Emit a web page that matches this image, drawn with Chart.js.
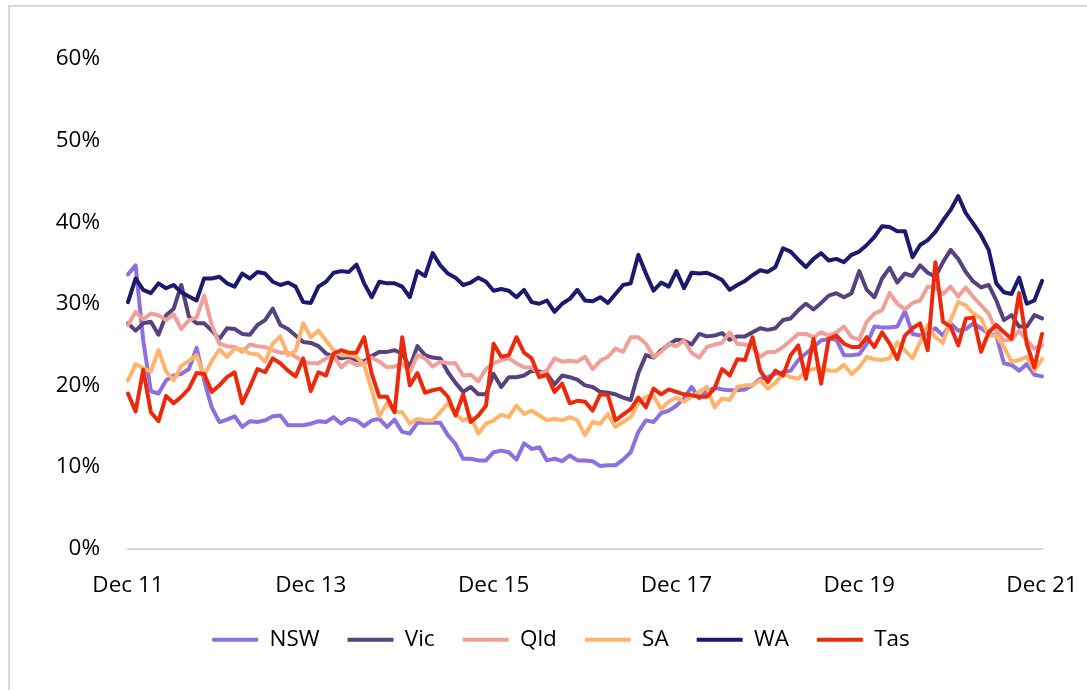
<!DOCTYPE html>
<html>
<head>
<meta charset="utf-8">
<script src="https://cdn.jsdelivr.net/npm/chart.js@4.4.1/dist/chart.umd.min.js"></script>
<style>
  html, body { margin: 0; padding: 0; background: #fff; }
  #wrap { position: relative; width: 1087px; height: 690px; overflow: hidden; }
  #frame { position: absolute; left: 8px; top: 5px; width: 1200px; height: 800px; border: 2px solid #d9d9d9; }
  #chart { position: absolute; left: 0; top: 0; }
</style>
</head>
<body>
<div id="wrap">
  <div id="frame"></div>
  <canvas id="chart" width="1087" height="690"></canvas>
</div>
<script>
// monthly shares, Dec 2011 to Dec 2021 (per cent)
const nsw = [
  33.6, 34.7, 25.5, 19.3, 19.0, 20.6, 21.2, 21.4, 22.0, 24.6,
  20.6, 17.3, 15.5, 15.8, 16.2, 14.9, 15.6, 15.5, 15.7, 16.2,
  16.3, 15.1, 15.1, 15.1, 15.3, 15.6, 15.5, 16.1, 15.3, 15.9,
  15.7, 15.0, 15.7, 15.9, 14.9, 15.8, 14.3, 14.1, 15.4, 15.4,
  15.4, 15.4, 13.9, 12.8, 11.0, 11.0, 10.8, 10.8, 11.8, 12.0,
  11.8, 10.9, 12.9, 12.2, 12.4, 10.8, 11.0, 10.7, 11.4, 10.8,
  10.8, 10.7, 10.1, 10.2, 10.2, 10.9, 11.8, 14.3, 15.7, 15.5,
  16.6, 16.9, 17.5, 18.4, 19.8, 18.4, 19.3, 19.7, 19.5, 19.4,
  19.4, 19.5, 20.0, 20.8, 21.0, 21.4, 21.6, 21.8, 23.1, 23.9,
  24.7, 25.5, 25.7, 25.6, 23.7, 23.7, 23.8, 25.1, 27.2, 27.1,
  27.1, 27.2, 29.1, 26.3, 26.1, 26.4, 27.0, 26.1, 27.6, 26.7,
  26.9, 27.6, 27.0, 26.3, 26.1, 22.7, 22.5, 21.8, 22.6, 21.3,
  21.1
];
const vic = [
  27.6, 26.7, 27.6, 27.8, 26.2, 28.6, 29.4, 32.3, 28.4, 27.6,
  27.6, 26.7, 25.7, 27.0, 26.9, 26.3, 26.2, 27.4, 28.0, 29.4,
  27.4, 26.9, 26.1, 25.3, 25.2, 24.8, 23.9, 23.5, 23.3, 23.5,
  23.1, 22.9, 23.6, 24.1, 24.1, 24.3, 23.9, 22.2, 24.8, 23.7,
  23.4, 23.3, 21.6, 20.3, 19.2, 19.8, 18.9, 18.9, 21.4, 19.8,
  21.0, 21.0, 21.2, 21.8, 21.7, 21.4, 20.1, 21.2, 21.0, 20.7,
  20.0, 19.8, 19.2, 19.1, 18.9, 18.5, 18.2, 21.5, 23.7, 23.4,
  24.3, 25.0, 25.6, 25.5, 25.0, 26.3, 26.0, 26.1, 26.4, 25.6,
  26.0, 26.0, 26.5, 27.0, 26.8, 27.0, 28.0, 28.2, 29.2, 30.0,
  29.3, 30.1, 31.0, 31.3, 30.8, 31.3, 34.0, 31.7, 30.8, 33.1,
  34.4, 32.6, 33.7, 33.4, 34.7, 33.8, 33.3, 35.1, 36.6, 35.5,
  33.9, 32.7, 32.0, 32.3, 30.4, 28.0, 28.6, 27.2, 27.2, 28.6,
  28.2
];
const qld = [
  27.4, 29.0, 28.1, 28.8, 28.6, 28.0, 28.7, 26.9, 28.0, 28.3,
  31.0, 27.4, 25.1, 24.8, 24.7, 24.1, 25.0, 24.8, 24.7, 24.3,
  24.0, 24.0, 23.5, 22.9, 22.7, 22.7, 23.3, 23.6, 22.2, 23.0,
  22.5, 22.6, 23.4, 22.9, 22.2, 22.3, 22.7, 21.6, 23.7, 23.3,
  22.3, 22.9, 22.7, 22.7, 21.2, 21.3, 20.5, 22.0, 22.7, 23.1,
  23.3, 22.7, 22.2, 22.2, 21.4, 21.8, 23.3, 22.9, 23.0, 22.9,
  23.5, 22.0, 23.0, 23.5, 24.5, 24.1, 25.9, 25.9, 25.1, 23.5,
  24.1, 25.1, 24.8, 25.5, 24.0, 23.4, 24.7, 25.0, 25.2, 26.5,
  25.1, 25.0, 24.7, 23.5, 24.1, 24.1, 24.7, 25.5, 26.3, 26.3,
  25.9, 26.5, 26.1, 26.5, 27.2, 25.9, 25.6, 27.8, 28.8, 29.2,
  31.3, 30.0, 29.3, 30.1, 30.4, 32.1, 32.0, 31.2, 32.1, 30.9,
  32.0, 30.8, 29.8, 28.8, 26.7, 25.5, 25.6, 26.7, 25.5, 24.5,
  24.9
];
const sa = [
  20.6, 22.6, 22.1, 21.7, 24.3, 21.7, 20.6, 22.4, 23.0, 23.7,
  21.2, 23.0, 24.4, 23.5, 24.5, 24.4, 23.9, 23.8, 22.9, 25.1,
  26.0, 23.7, 24.2, 27.6, 25.9, 26.7, 25.5, 24.3, 23.7, 23.7,
  23.5, 22.5, 19.4, 16.2, 17.8, 16.8, 16.7, 15.3, 15.9, 15.7,
  15.7, 16.7, 17.8, 16.5, 15.7, 16.1, 14.1, 15.3, 15.7, 16.4,
  16.1, 17.5, 16.5, 16.9, 16.3, 15.7, 15.9, 15.7, 16.1, 15.7,
  13.9, 15.5, 15.3, 16.5, 14.9, 15.5, 16.1, 17.8, 18.6, 18.7,
  17.1, 18.0, 18.5, 18.0, 18.6, 19.2, 19.8, 17.3, 18.4, 18.2,
  19.8, 20.0, 20.0, 20.6, 19.6, 20.3, 21.4, 21.0, 20.8, 21.8,
  22.0, 22.2, 21.8, 21.8, 22.5, 21.4, 22.2, 23.5, 23.2, 23.1,
  23.3, 25.3, 24.3, 23.3, 25.3, 27.4, 25.9, 25.2, 28.0, 30.2,
  29.8, 28.8, 28.2, 26.1, 26.1, 24.7, 22.9, 23.1, 23.5, 21.8,
  23.2
];
const wa = [
  30.2, 33.1, 31.7, 31.3, 32.5, 31.9, 32.3, 31.4, 30.9, 30.4,
  33.1, 33.1, 33.3, 32.5, 32.1, 33.7, 33.1, 33.9, 33.7, 32.7,
  32.3, 32.6, 32.1, 30.2, 30.1, 32.1, 32.7, 33.8, 34.0, 33.9,
  34.8, 32.5, 30.8, 32.7, 32.5, 32.5, 32.1, 30.8, 34.0, 33.4,
  36.2, 34.7, 33.7, 33.2, 32.3, 32.6, 33.2, 32.7, 31.6, 31.8,
  31.6, 30.8, 31.7, 30.2, 30.0, 30.4, 29.0, 30.0, 30.6, 31.7,
  30.4, 30.3, 30.8, 30.1, 31.2, 32.3, 32.5, 36.0, 33.7, 31.6,
  32.6, 32.1, 34.0, 31.9, 33.8, 33.7, 33.8, 33.4, 32.9, 31.7,
  32.3, 32.8, 33.5, 34.1, 33.9, 34.5, 36.8, 36.4, 35.4, 34.5,
  35.5, 36.2, 35.3, 35.5, 35.1, 36.0, 36.4, 37.2, 38.2, 39.5,
  39.4, 38.9, 38.9, 35.7, 37.2, 37.8, 38.8, 40.2, 41.5, 43.2,
  41.1, 39.8, 38.4, 36.6, 32.5, 31.4, 31.2, 33.2, 30.0, 30.4,
  32.8
];
const tas = [
  19.0, 16.8, 21.9, 16.7, 15.6, 18.7, 17.8, 18.6, 19.6, 21.5,
  21.4, 19.2, 20.0, 21.0, 21.6, 17.8, 19.8, 22.0, 21.6, 23.3,
  22.7, 21.8, 21.1, 23.3, 19.3, 21.6, 21.2, 23.9, 24.3, 24.0,
  24.0, 25.9, 21.4, 18.6, 18.6, 16.7, 25.9, 20.0, 21.5, 19.1,
  19.4, 19.6, 18.6, 16.3, 18.9, 15.5, 16.3, 17.5, 25.1, 23.5,
  23.7, 25.9, 24.0, 23.3, 21.0, 21.3, 19.2, 20.2, 17.8, 18.1,
  18.0, 16.9, 18.9, 18.8, 15.7, 16.4, 17.1, 18.5, 17.3, 19.6,
  18.9, 19.5, 19.2, 18.9, 18.8, 18.6, 18.6, 19.6, 22.0, 21.2,
  23.2, 23.1, 25.9, 21.8, 20.4, 21.8, 21.2, 23.7, 24.9, 20.8,
  25.7, 20.2, 25.7, 26.1, 25.1, 24.7, 24.7, 25.9, 24.7, 26.5,
  25.1, 23.2, 26.1, 27.0, 27.6, 24.3, 35.1, 27.8, 27.2, 24.9,
  28.2, 28.3, 24.1, 26.5, 27.4, 26.5, 25.7, 31.3, 25.1, 22.2,
  26.3
];

const tickLabels = ["Dec 11", "Dec 13", "Dec 15", "Dec 17", "Dec 19", "Dec 21"];
const yTicks = [0, 10, 20, 30, 40, 50, 60];

// month categories "Dec 11" .. "Dec 21"
const monthNames = ["Jan", "Feb", "Mar", "Apr", "May", "Jun", "Jul", "Aug", "Sep", "Oct", "Nov", "Dec"];
const categories = [];
for (let k = 0; k < nsw.length; k++) {
  const m = 11 + k;
  categories.push(monthNames[m % 12] + " " + (11 + Math.floor(m / 12)));
}

const series = [
  { label: "NSW", data: nsw, color: "#8c70e0" },
  { label: "Vic", data: vic, color: "#55427f" },
  { label: "Qld", data: qld, color: "#f19f99" },
  { label: "SA",  data: sa,  color: "#ffb46c" },
  { label: "WA",  data: wa,  color: "#1b1a6e" },
  { label: "Tas", data: tas, color: "#ec2a0b" }
];

const font = { family: "'Open Sans', 'Noto Sans', sans-serif", size: 22.5 };

// nudge the legend row sideways so it sits under the plot as a block
const legendShift = {
  id: "legendShift",
  afterLayout(chart) {
    const lg = chart.legend;
    if (lg) { lg.left += 20; lg.right += 20; }
  }
};

new Chart(document.getElementById("chart"), {
  type: "line",
  data: {
    labels: categories,
    datasets: series.map((s, i) => ({
      label: s.label,
      data: s.data,
      borderColor: s.color,
      backgroundColor: s.color,
      borderWidth: 4,
      borderJoinStyle: "round",
      borderCapStyle: "round",
      pointRadius: 0,
      pointHoverRadius: 0,
      tension: 0,
      fill: false,
      order: series.length - i
    }))
  },
  options: {
    responsive: false,
    animation: false,
    devicePixelRatio: 1,
    layout: { padding: { left: 40, right: 45, top: 59, bottom: 29 } },
    plugins: {
      tooltip: { enabled: false },
      legend: {
        position: "bottom",
        labels: {
          usePointStyle: true,
          pointStyle: "line",
          pointStyleWidth: 46,
          padding: 28,
          color: "#000",
          font: font,
          sort: (a, b) => a.datasetIndex - b.datasetIndex
        }
      }
    },
    scales: {
      x: {
        grid: { display: false, drawTicks: false },
        border: { display: true, color: "#d9d9d9", width: 2 },
        ticks: {
          autoSkip: false,
          maxRotation: 0,
          minRotation: 0,
          padding: 24,
          color: "#000",
          font: font,
          callback: function (value) {
            const lab = this.getLabelForValue(value);
            return tickLabels.includes(lab) ? lab : "";
          }
        },
        afterFit: (scale) => {
          scale.height = 52;
          scale.paddingLeft = 0;
          scale.paddingRight = 0;
        }
      },
      y: {
        min: yTicks[0],
        max: yTicks[yTicks.length - 1],
        grid: { display: false, drawTicks: false },
        border: { display: false },
        ticks: {
          stepSize: 10,
          padding: 28,
          color: "#000",
          font: font,
          callback: (v) => v + "%"
        },
        afterFit: (scale) => { scale.width = 88; }
      }
    }
  },
  plugins: [legendShift]
});
</script>
</body>
</html>
